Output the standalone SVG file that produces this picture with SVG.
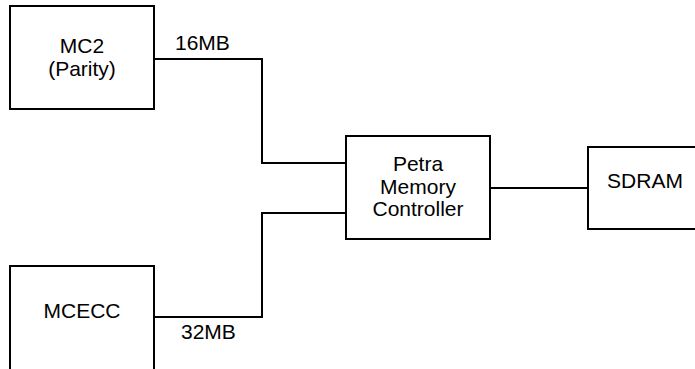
<svg xmlns="http://www.w3.org/2000/svg" width="695" height="369" viewBox="0 0 695 369">
<style>
.box{fill:#fff;stroke:#000;stroke-width:2}
.wire{fill:none;stroke:#000;stroke-width:2}
text{font-family:"Liberation Sans",Arial,sans-serif;font-size:21px;fill:#000}
.c{text-anchor:middle}
</style>
<rect width="695" height="369" fill="#fff"/>
<g id="connectors">
<path class="wire" d="M154,59 H262 V163 H346"/>
<path class="wire" d="M154,317 H262 V213 H346"/>
<path class="wire" d="M490,188 H588"/>
<text x="175" y="50">16MB</text>
<text x="181" y="339">32MB</text>
</g>
<g id="mc2">
<rect class="box" x="10" y="6" width="144" height="103"/>
<text class="c" x="82" y="53">MC2</text>
<text class="c" x="82" y="76">(Parity)</text>
</g>
<g id="mcecc">
<rect class="box" x="10" y="266" width="144" height="120"/>
<text class="c" x="82" y="318">MCECC</text>
</g>
<g id="petra">
<rect class="box" x="346" y="136" width="144" height="103"/>
<text class="c" x="418" y="171">Petra</text>
<text class="c" x="418" y="194">Memory</text>
<text class="c" x="418" y="216">Controller</text>
</g>
<g id="sdram">
<rect class="box" x="588" y="147" width="114" height="82"/>
<text class="c" x="645" y="188">SDRAM</text>
</g>
</svg>
